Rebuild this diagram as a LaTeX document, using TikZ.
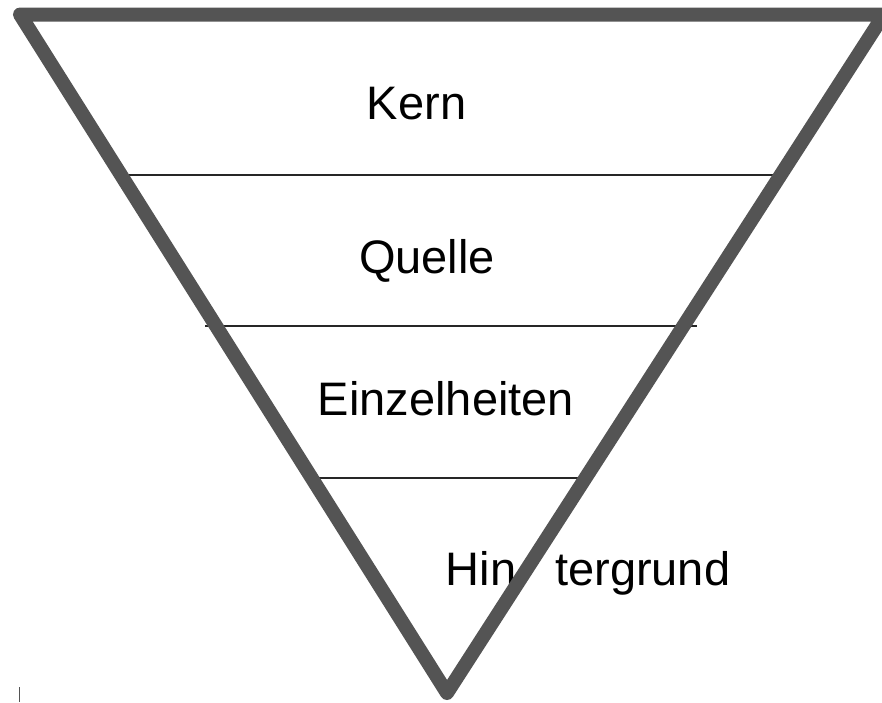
\documentclass[tikz,border=0pt]{standalone}
\usepackage{fontspec}
\setmainfont{Liberation Sans}
\definecolor{randgrau}{RGB}{84,84,84}
\begin{document}
\begin{tikzpicture}[x=1pt,y=-1pt,
  rand/.style={line width=14pt,color=randgrau,line join=round},
  trenner/.style={line width=1.1pt,color=black!85},
  stufe/.style={anchor=base,inner sep=0pt,font=\fontsize{47}{56}\selectfont}]
\useasboundingbox (0,0) rectangle (882,702);
\coordinate (lo) at (20,14.5); %Ecke links oben
\coordinate (ro) at (884,14.5); %Ecke rechts oben
\coordinate (spitze) at (447,693); %Spitze unten
\coordinate (a1) at (125,175); \coordinate (b1) at (778,175);
\coordinate (a2) at (205,326); \coordinate (b2) at (697,326); %steht rechts etwas ueber
\coordinate (a3) at (316,478); \coordinate (b3) at (581,478);
\draw[trenner] (a1)--(b1);
\draw[trenner] (a2)--(b2);
\draw[trenner] (a3)--(b3);
\node[stufe] (kern) at (416.5,119) {Kern};
\node[stufe] (quelle) at (427,273) {Quelle};
\node[stufe] (einzel) at (446,415) {Einzelheiten};
\node[stufe] (hinter) at (588,585) {Hin\hspace{39pt}tergrund};
\draw[rand] (lo)--(ro)--(spitze)--cycle; %Rahmen ueber allem
\coordinate (m1) at (19,687); \coordinate (m2) at (19,702);
\draw[line width=1pt,color=randgrau] (m1)--(m2); %kleine Marke
\end{tikzpicture}
\end{document}
